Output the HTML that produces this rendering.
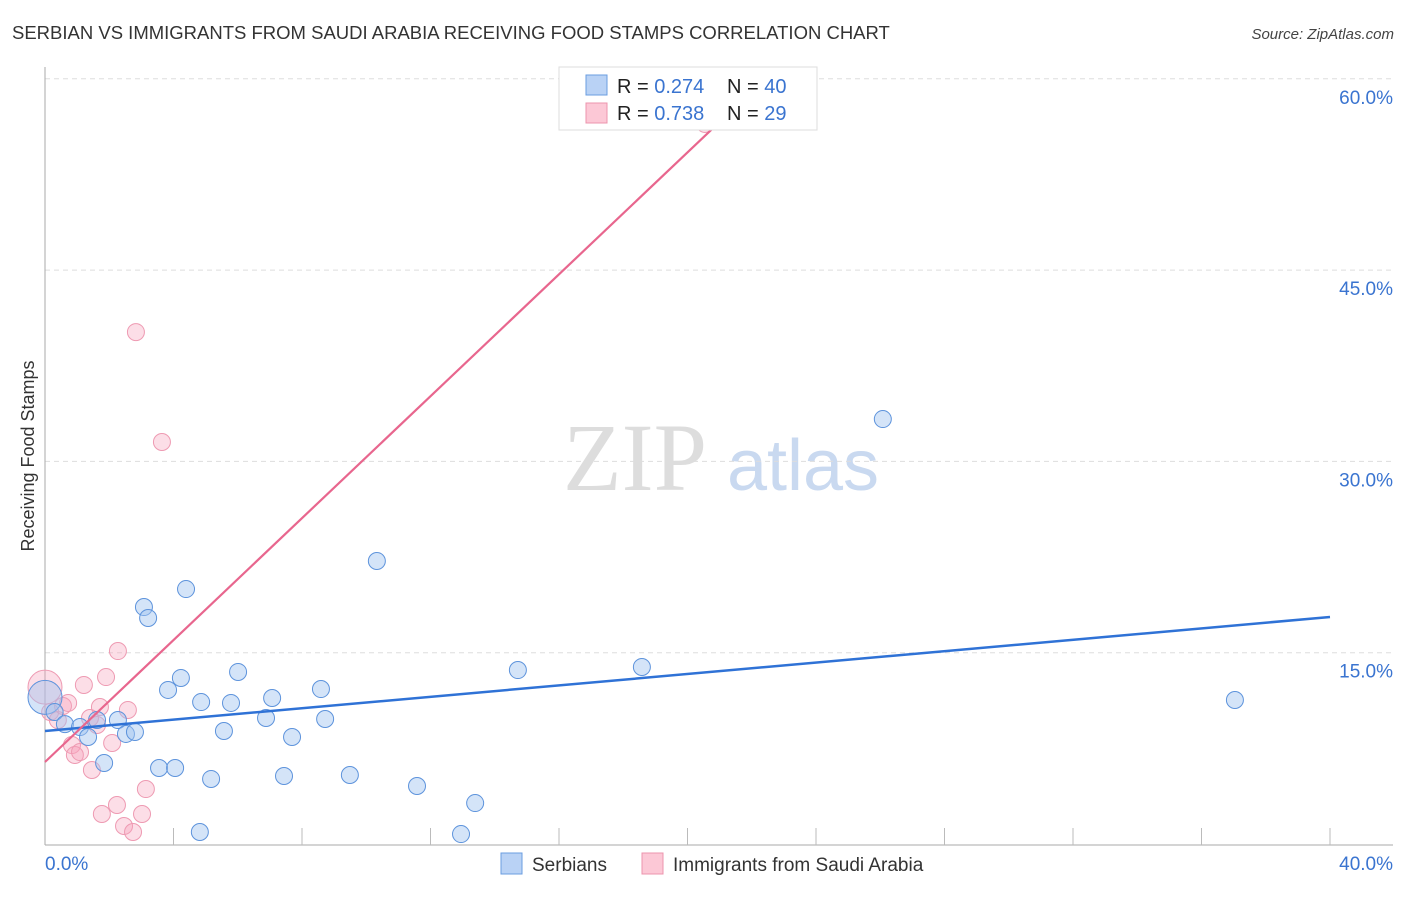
<!DOCTYPE html>
<html><head><meta charset="utf-8"><style>
body{margin:0;background:#fff;font-family:"Liberation Sans",sans-serif;}
svg text{font-family:"Liberation Sans",sans-serif;}
</style></head><body>
<svg width="1406" height="892" viewBox="0 0 1406 892">
<text x="12" y="39" font-size="18.5" fill="#333">SERBIAN VS IMMIGRANTS FROM SAUDI ARABIA RECEIVING FOOD STAMPS CORRELATION CHART</text>
<text x="1394" y="39" font-size="15" fill="#444" font-style="italic" text-anchor="end">Source: ZipAtlas.com</text>
<g>
<text x="635" y="490" font-size="96" fill="#ddd" text-anchor="middle" font-family="Liberation Serif" style="font-family:'Liberation Serif',serif">ZIP</text>
<text x="803" y="490" font-size="72" fill="#c9d9f0" text-anchor="middle">atlas</text>
</g>
<g id="grid"></g>
<g id="axes"></g>
<g id="marks"></g>
<text transform="translate(34,456) rotate(-90)" font-size="18" fill="#333" text-anchor="middle">Receiving Food Stamps</text>
<g>
<rect x="559" y="67" width="258" height="63" fill="#fff" stroke="#ddd"/>
<rect x="586" y="75" width="21" height="20" fill="#b9d2f5" stroke="#6a9de0"/>
<rect x="586" y="103" width="21" height="20" fill="#fcc8d6" stroke="#ec94ad"/>
<text x="617" y="93" font-size="20" fill="#222">R = <tspan fill="#3a74d0">0.274</tspan></text>
<text x="727" y="93" font-size="20" fill="#222">N = <tspan fill="#3a74d0">40</tspan></text>
<text x="617" y="120" font-size="20" fill="#222">R = <tspan fill="#3a74d0">0.738</tspan></text>
<text x="727" y="120" font-size="20" fill="#222">N = <tspan fill="#3a74d0"> 29</tspan></text>
</g>
<g>
<rect x="501" y="853" width="21" height="21" fill="#b9d2f5" stroke="#6a9de0"/>
<text x="532" y="871" font-size="19" fill="#333">Serbians</text>
<rect x="642" y="853" width="21" height="21" fill="#fcc8d6" stroke="#ec94ad"/>
<text x="673" y="871" font-size="19" fill="#333">Immigrants from Saudi Arabia</text>
</g>
</svg>
<script>
const yTicks=[15,30,45,60];
const yTickLabels=["15.0%","30.0%","45.0%","60.0%"];
const xTickLabels=["0.0%","40.0%"];
const serbX=[0,0.3,0.62,1.09,1.34,1.62,1.84,2.27,2.52,2.8,3.08,3.21,3.55,3.83,4.05,4.23,4.39,4.82,4.86,5.17,5.57,5.79,6.01,6.88,7.07,7.44,7.69,8.59,8.72,9.49,10.33,11.58,12.95,13.39,14.72,18.58,26.08,37.04];
const serbY=[11.5,10.35,9.4,9.17,8.39,9.72,6.35,9.72,8.63,8.78,18.58,17.72,5.96,12.08,5.96,13.02,19.99,0.94,11.13,5.1,8.86,11.06,13.49,9.88,11.45,5.33,8.39,12.15,9.8,5.41,22.19,4.55,0.78,3.21,13.64,13.88,33.32,11.29];
const saudiX=[0,0.16,0.4,0.56,0.72,0.84,0.93,1.09,1.21,1.46,1.62,1.4,1.71,1.9,2.09,2.27,1.77,2.24,2.46,2.74,3.02,3.14,2.58,2.83,3.64,20.54];
const saudiY=[12.3,10.35,9.72,10.82,11.06,7.76,6.98,7.21,12.47,5.8,9.33,9.88,10.74,13.09,7.92,15.13,2.35,3.06,1.41,0.94,2.35,4.31,10.51,40.14,31.52,56.46];
const serbLine=[8.86,17.8];
const saudiLine=[6.43,2.39];
const NS="http://www.w3.org/2000/svg";
const sx=v=>45+v/40*1285;
const sy=v=>844-v/15*191.3;
function mk(t,a,p){const e=document.createElementNS(NS,t);for(const k in a)e.setAttribute(k,a[k]);p.appendChild(e);return e;}
const grid=document.getElementById('grid'),axes=document.getElementById('axes'),marks=document.getElementById('marks');
yTicks.forEach((t,i)=>{
 const l=mk('line',{x1:45,x2:1393,y1:sy(t),y2:sy(t),stroke:'#ddd','stroke-dasharray':'5,4'},grid);
 
 
 const tx=mk('text',{x:1393,y:sy(t)+25,'font-size':19,fill:'#3a74d0','text-anchor':'end'},axes);
 tx.textContent=yTickLabels[i];
 
 
});
const ya=mk('line',{x1:45,x2:45,y1:67,y2:845,stroke:'#aaa'},axes);


const xa=mk('line',{x1:45,x2:1393,y1:845,y2:845,stroke:'#aaa'},axes);


for(let v=4;v<=40;v+=4){
 const t=mk('line',{x1:sx(v),x2:sx(v),y1:828,y2:845,stroke:'#bbb'},axes);
 
 
}
[[0,'start'],[40,'end']].forEach((d,i)=>{
 const tx=mk('text',{x:i?1393:45,y:870,'font-size':19,fill:'#3a74d0','text-anchor':d[1]},axes);
 tx.textContent=xTickLabels[i];
 
 
});
saudiX.forEach((x,i)=>{
 const c=mk('circle',{cx:sx(x),cy:sy(saudiY[i]),r:i==0?17:8.5,fill:'rgba(246,160,186,0.35)',stroke:'#ee9ab2','stroke-width':1},marks);
 
 
});
serbX.forEach((x,i)=>{
 const c=mk('circle',{cx:sx(x),cy:sy(serbY[i]),r:i==0?17:8.5,fill:'rgba(160,195,240,0.45)',stroke:'#5d93dc','stroke-width':1},marks);
 
 
});
const bl=mk('line',{x1:sx(0),y1:sy(serbLine[0]),x2:sx(40),y2:sy(serbLine[1]),stroke:'#2f72d6','stroke-width':2.5},marks);


const xe=(60-saudiLine[0])/saudiLine[1];
const pl=mk('line',{x1:sx(0),y1:sy(saudiLine[0]),x2:sx(xe),y2:sy(60),stroke:'#e8668e','stroke-width':2.2},marks);


</script>
</body></html>
